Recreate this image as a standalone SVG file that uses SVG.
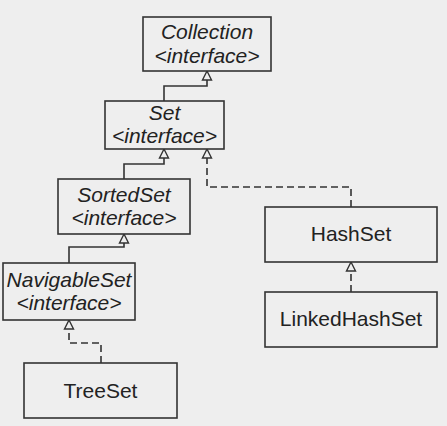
<svg xmlns="http://www.w3.org/2000/svg" width="447" height="426" viewBox="0 0 447 426">
<style>
.bg{fill:#eeeeee}
.box{fill:#eeeeee;stroke:#333;stroke-width:1.6}
.t{font-family:"Liberation Sans",Arial,sans-serif;font-size:21px;fill:#222;text-anchor:middle}
.i{font-style:italic}
.ln{fill:none;stroke:#333;stroke-width:1.6}
.d{stroke-dasharray:7 4}
.ah{fill:#eeeeee;stroke:#333;stroke-width:1.4}
</style>
<rect class="bg" x="0" y="0" width="447" height="426"/>
<g id="connectors">
<path class="ln" d="M164 101 V86 H207 V80"/>
<path class="ah" d="M207 71 L202.5 80 H211.5 Z"/>
<path class="ln" d="M124 179 V164 H164 V158"/>
<path class="ah" d="M164 149 L159.5 158 H168.5 Z"/>
<path class="ln" d="M69 263 V247 H124 V243"/>
<path class="ah" d="M124 234 L119.5 243 H128.5 Z"/>
<path class="ln d" d="M101 363 V343 H69 V329"/>
<path class="ah" d="M69 320 L64.5 329 H73.5 Z"/>
<path class="ln d" d="M351 207 V187 H207 V158"/>
<path class="ah" d="M207 149 L202.5 158 H211.5 Z"/>
<path class="ln d" d="M351 292 V271"/>
<path class="ah" d="M351 262 L346.5 271 H355.5 Z"/>
</g>
<g id="collection">
<rect class="box" x="143" y="17" width="128" height="54"/>
<text class="t i" x="207" y="39">Collection</text>
<text class="t i" x="207" y="63">&lt;interface&gt;</text>
</g>
<g id="set">
<rect class="box" x="105" y="101" width="119" height="48"/>
<text class="t i" x="164.5" y="120">Set</text>
<text class="t i" x="164.5" y="143">&lt;interface&gt;</text>
</g>
<g id="sortedset">
<rect class="box" x="58" y="179" width="132" height="55"/>
<text class="t i" x="124" y="202">SortedSet</text>
<text class="t i" x="124" y="225">&lt;interface&gt;</text>
</g>
<g id="navigableset">
<rect class="box" x="3" y="263" width="132" height="57"/>
<text class="t i" x="69" y="287">NavigableSet</text>
<text class="t i" x="69" y="310">&lt;interface&gt;</text>
</g>
<g id="treeset">
<rect class="box" x="24" y="363" width="153" height="55"/>
<text class="t" x="100.5" y="398">TreeSet</text>
</g>
<g id="hashset">
<rect class="box" x="265" y="207" width="172" height="55"/>
<text class="t" x="351" y="241">HashSet</text>
</g>
<g id="linkedhashset">
<rect class="box" x="265" y="292" width="172" height="55"/>
<text class="t" x="351" y="326">LinkedHashSet</text>
</g>
</svg>
